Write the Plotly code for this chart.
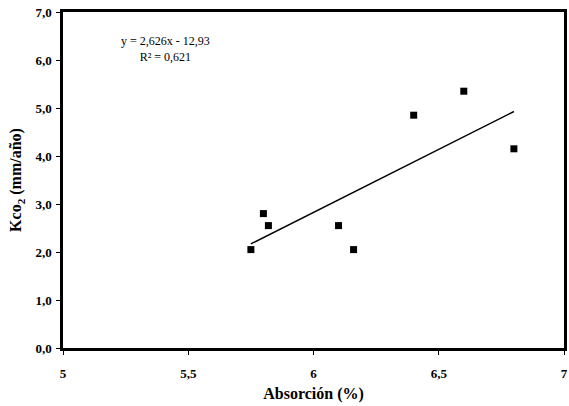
import plotly.graph_objects as go

# Absorción (%) vs Kco2 (mm/año)
absorcion = [5.75, 5.80, 5.82, 6.10, 6.16, 6.40, 6.60, 6.80]
kco2 = [2.05, 2.80, 2.55, 2.55, 2.05, 4.85, 5.35, 4.15]

# linear trend fitted to the data
pendiente = 2.626
ordenada = -12.93
r2 = 0.621

x_fit = [min(absorcion), max(absorcion)]
y_fit = [pendiente * x + ordenada for x in x_fit]

font_family = "Liberation Serif, Times New Roman, serif"

fig = go.Figure()
fig.add_trace(go.Scatter(
    x=x_fit, y=y_fit, mode="lines",
    line=dict(color="black", width=1.5),
    showlegend=False, hoverinfo="skip",
))
fig.add_trace(go.Scatter(
    x=absorcion, y=kco2, mode="markers",
    marker=dict(symbol="square", size=7, color="black"),
    showlegend=False,
))

fig.add_annotation(
    x=5.41, y=6.23, xref="x", yref="y",
    text="y = 2,626x - 12,93<br>R² = 0,621",
    showarrow=False, align="center",
    font=dict(family=font_family, size=12, color="black"),
)

axis_common = dict(
    showgrid=False, zeroline=False,
    showline=True, linecolor="black", linewidth=2.5, mirror=True,
    ticks="outside", ticklen=4, tickwidth=1, tickcolor="black",
    tickfont=dict(family=font_family, size=13, color="black", weight="bold"),
)

fig.update_xaxes(
    range=[5, 7], dtick=0.5, tick0=5, ticklabelstandoff=8,
    title=dict(text="Absorción (%)", standoff=8,
               font=dict(family=font_family, size=16, color="black", weight="bold")),
    **axis_common,
)
fig.update_yaxes(
    range=[0, 7], dtick=1, tick0=0, tickformat=".1f", ticklabelstandoff=2,
    title=dict(text="Kco<sub>2</sub> (mm/año)", standoff=10,
               font=dict(family=font_family, size=16, color="black", weight="bold")),
    **axis_common,
)

fig.update_layout(
    width=569, height=406,
    margin=dict(l=63, r=2, t=12, b=58),
    plot_bgcolor="white", paper_bgcolor="white",
    separators=",.",
)

fig.write_html("out.html")
